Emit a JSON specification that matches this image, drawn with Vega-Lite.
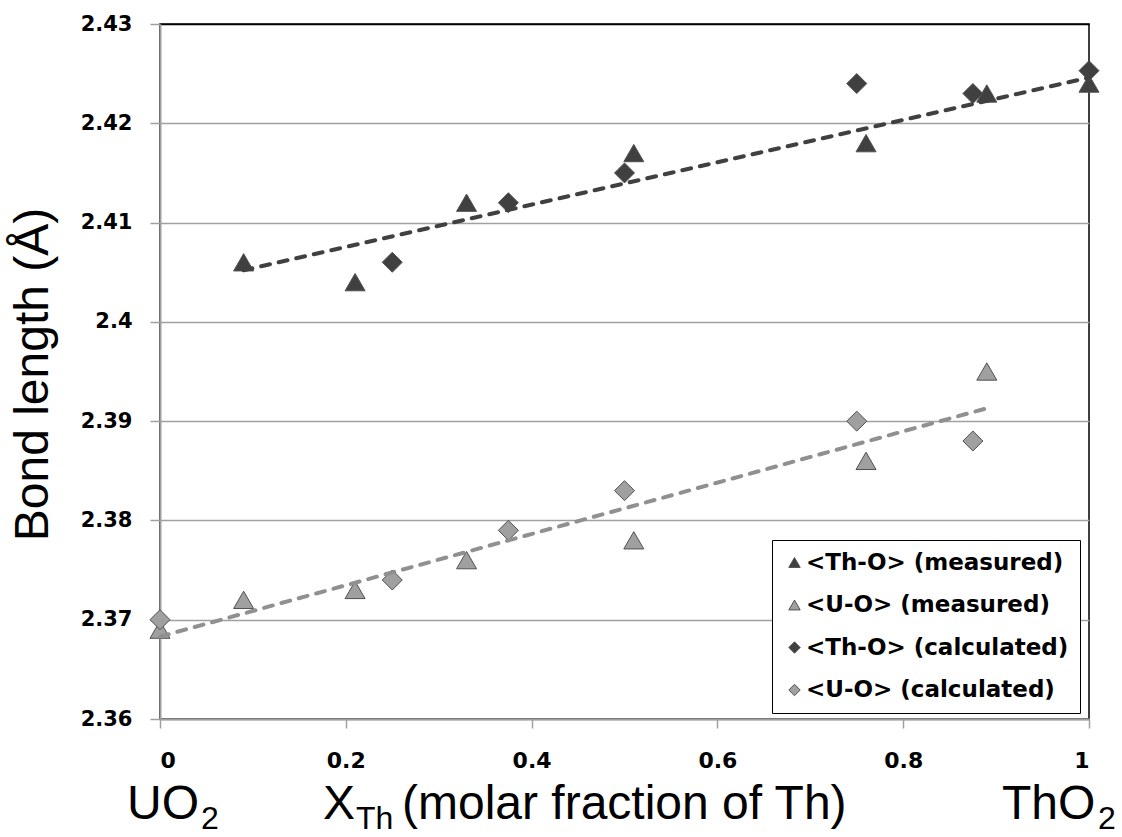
{
  "$schema": "https://vega.github.io/schema/vega-lite/v6.json",
  "width": 929,
  "height": 695,
  "autosize": "none",
  "padding": {"left": 160, "top": 24, "right": 33, "bottom": 118},
  "background": "white",
  "config": {
    "view": {"stroke": "black", "strokeWidth": 1.5},
    "font": "Liberation Sans"
  },
  "datasets": {
    "points": [
      {"x": 0.09, "y": 2.406, "series": "<Th-O> (measured)"},
      {"x": 0.21, "y": 2.404, "series": "<Th-O> (measured)"},
      {"x": 0.33, "y": 2.412, "series": "<Th-O> (measured)"},
      {"x": 0.51, "y": 2.417, "series": "<Th-O> (measured)"},
      {"x": 0.76, "y": 2.418, "series": "<Th-O> (measured)"},
      {"x": 0.89, "y": 2.423, "series": "<Th-O> (measured)"},
      {"x": 1.0, "y": 2.424, "series": "<Th-O> (measured)"},
      {"x": 0.0, "y": 2.369, "series": "<U-O> (measured)"},
      {"x": 0.09, "y": 2.372, "series": "<U-O> (measured)"},
      {"x": 0.21, "y": 2.373, "series": "<U-O> (measured)"},
      {"x": 0.33, "y": 2.376, "series": "<U-O> (measured)"},
      {"x": 0.51, "y": 2.378, "series": "<U-O> (measured)"},
      {"x": 0.76, "y": 2.386, "series": "<U-O> (measured)"},
      {"x": 0.89, "y": 2.395, "series": "<U-O> (measured)"},
      {"x": 0.25, "y": 2.406, "series": "<Th-O> (calculated)"},
      {"x": 0.375, "y": 2.412, "series": "<Th-O> (calculated)"},
      {"x": 0.5, "y": 2.415, "series": "<Th-O> (calculated)"},
      {"x": 0.75, "y": 2.424, "series": "<Th-O> (calculated)"},
      {"x": 0.875, "y": 2.423, "series": "<Th-O> (calculated)"},
      {"x": 1.0, "y": 2.4253, "series": "<Th-O> (calculated)"},
      {"x": 0.0, "y": 2.370, "series": "<U-O> (calculated)"},
      {"x": 0.25, "y": 2.374, "series": "<U-O> (calculated)"},
      {"x": 0.375, "y": 2.379, "series": "<U-O> (calculated)"},
      {"x": 0.5, "y": 2.383, "series": "<U-O> (calculated)"},
      {"x": 0.75, "y": 2.390, "series": "<U-O> (calculated)"},
      {"x": 0.875, "y": 2.388, "series": "<U-O> (calculated)"}
    ],
    "trendTh": [
      {"x": 0.09, "y": 2.4052},
      {"x": 1.0, "y": 2.4246}
    ],
    "trendU": [
      {"x": 0.0, "y": 2.3683},
      {"x": 0.89, "y": 2.3913}
    ]
  },
  "layer": [
    {
      "data": {"name": "points"},
      "mark": {"type": "point", "filled": true, "opacity": 1, "stroke": "#505050", "strokeWidth": 1},
      "encoding": {
        "x": {
          "field": "x", "type": "quantitative",
          "scale": {"domain": [0, 1], "nice": false, "zero": false},
          "axis": {
            "title": null,
            "values": [0, 0.2, 0.4, 0.6, 0.8, 1],
            "format": "~g",
            "grid": false,
            "domainColor": "#a0a0a0", "domainWidth": 2,
            "tickColor": "#a0a0a0", "tickWidth": 1.5, "tickSize": 9,
            "labelFont": "DejaVu Sans", "labelFontWeight": "bold", "labelFontSize": 22, "labelColor": "black",
            "labelPadding": 22
          }
        },
        "y": {
          "field": "y", "type": "quantitative",
          "scale": {"domain": [2.36, 2.43], "nice": false, "zero": false},
          "axis": {
            "title": "Bond length (Å)",
            "values": [2.36, 2.37, 2.38, 2.39, 2.4, 2.41, 2.42, 2.43],
            "format": "~g",
            "grid": true,
            "gridColor": {"condition": {"test": "datum.value >= 2.429", "value": "black"}, "value": "#a0a0a0"},
            "gridWidth": 1.5,
            "domainColor": "#a0a0a0", "domainWidth": 2,
            "tickColor": "#a0a0a0", "tickWidth": 1.5, "tickSize": 10,
            "labelFont": "DejaVu Sans", "labelFontWeight": "bold", "labelFontSize": 21, "labelColor": "black",
            "labelPadding": 18,
            "titleFont": "Liberation Sans", "titleFontSize": 48, "titleFontWeight": "normal", "titleColor": "black",
            "titleAngle": -90, "titleX": -113, "titleY": 350, "titleAlign": "center", "titleBaseline": "alphabetic"
          }
        },
        "color": {
          "field": "series", "type": "nominal",
          "scale": {
            "domain": ["<Th-O> (measured)", "<U-O> (measured)", "<Th-O> (calculated)", "<U-O> (calculated)"],
            "range": ["#404040", "#a0a0a0", "#404040", "#a0a0a0"]
          },
          "legend": {
            "title": null,
            "orient": "none", "legendX": 612, "legendY": 516,
            "padding": 11, "rowPadding": 18.5,
            "fillColor": "white", "strokeColor": "black",
            "labelFont": "DejaVu Sans", "labelFontWeight": "bold", "labelFontSize": 23, "labelColor": "black",
            "labelLimit": 400, "labelOffset": 0,
            "symbolSize": 130, "symbolStrokeWidth": 1,
            "encode": {"legend": {"update": {"strokeWidth": {"value": 2}}}}
          }
        },
        "shape": {
          "field": "series", "type": "nominal",
          "scale": {
            "domain": ["<Th-O> (measured)", "<U-O> (measured)", "<Th-O> (calculated)", "<U-O> (calculated)"],
            "range": ["triangle-up", "triangle-up", "diamond", "diamond"]
          },
          "legend": {
            "title": null,
            "orient": "none", "legendX": 612, "legendY": 516
          }
        },
        "size": {"value": 400}
      }
    },
    {
      "data": {"name": "trendTh"},
      "mark": {"type": "line", "color": "#404040", "strokeWidth": 4, "strokeDash": [9, 9], "strokeCap": "round"},
      "encoding": {
        "x": {"field": "x", "type": "quantitative"},
        "y": {"field": "y", "type": "quantitative"}
      }
    },
    {
      "data": {"name": "trendU"},
      "mark": {"type": "line", "color": "#909090", "strokeWidth": 4, "strokeDash": [9, 9], "strokeCap": "round"},
      "encoding": {
        "x": {"field": "x", "type": "quantitative"},
        "y": {"field": "y", "type": "quantitative"}
      }
    },
    {
      "data": {"values": [{"label": "UO"}]},
      "mark": {"type": "text", "align": "left", "baseline": "alphabetic", "fontSize": 48, "font": "Liberation Sans", "color": "black"},
      "encoding": {
        "x": {"datum": -0.0355, "type": "quantitative"},
        "y": {"datum": 2.3499, "type": "quantitative"},
        "text": {"field": "label"}
      }
    },
    {
      "data": {"values": [{"label": "2"}]},
      "mark": {"type": "text", "align": "left", "baseline": "alphabetic", "fontSize": 32, "font": "Liberation Sans", "color": "black"},
      "encoding": {
        "x": {"datum": 0.0441, "type": "quantitative"},
        "y": {"datum": 2.3489, "type": "quantitative"},
        "text": {"field": "label"}
      }
    },
    {
      "data": {"values": [{"label": "X"}]},
      "mark": {"type": "text", "align": "left", "baseline": "alphabetic", "fontSize": 48, "font": "Liberation Sans", "color": "black"},
      "encoding": {
        "x": {"datum": 0.1755, "type": "quantitative"},
        "y": {"datum": 2.3499, "type": "quantitative"},
        "text": {"field": "label"}
      }
    },
    {
      "data": {"values": [{"label": "Th"}]},
      "mark": {"type": "text", "align": "left", "baseline": "alphabetic", "fontSize": 32, "font": "Liberation Sans", "color": "black"},
      "encoding": {
        "x": {"datum": 0.2109, "type": "quantitative"},
        "y": {"datum": 2.3489, "type": "quantitative"},
        "text": {"field": "label"}
      }
    },
    {
      "data": {"values": [{"label": "(molar fraction of Th)"}]},
      "mark": {"type": "text", "align": "left", "baseline": "alphabetic", "fontSize": 48, "font": "Liberation Sans", "color": "black"},
      "encoding": {
        "x": {"datum": 0.2605, "type": "quantitative"},
        "y": {"datum": 2.3499, "type": "quantitative"},
        "text": {"field": "label"}
      }
    },
    {
      "data": {"values": [{"label": "ThO"}]},
      "mark": {"type": "text", "align": "left", "baseline": "alphabetic", "fontSize": 48, "font": "Liberation Sans", "color": "black"},
      "encoding": {
        "x": {"datum": 0.9063, "type": "quantitative"},
        "y": {"datum": 2.3499, "type": "quantitative"},
        "text": {"field": "label"}
      }
    },
    {
      "data": {"values": [{"label": "2"}]},
      "mark": {"type": "text", "align": "left", "baseline": "alphabetic", "fontSize": 32, "font": "Liberation Sans", "color": "black"},
      "encoding": {
        "x": {"datum": 1.0097, "type": "quantitative"},
        "y": {"datum": 2.3489, "type": "quantitative"},
        "text": {"field": "label"}
      }
    }
  ]
}
